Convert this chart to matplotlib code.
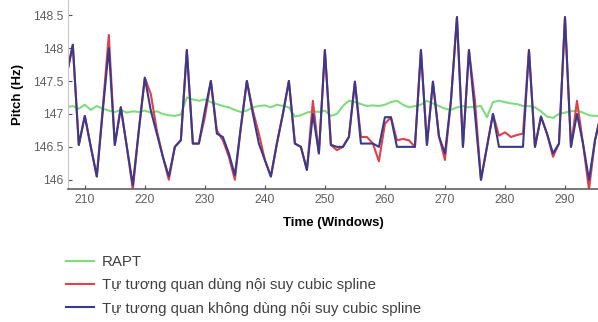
import matplotlib
matplotlib.use('Agg')
import matplotlib.pyplot as plt

plt.rcParams['font.family'] = ['Liberation Sans', 'DejaVu Sans']

# window index
windows = list(range(207, 297))

# RAPT pitch
rapt = [147.10, 147.12, 147.08, 147.14, 147.06, 147.12, 147.08, 147.05, 147.03, 147.06,
        147.02, 147.04, 147.03, 147.05, 147.02, 147.04, 147.00, 146.98, 146.97, 146.99,
        147.25, 147.22, 147.20, 147.22, 147.18, 147.15, 147.12, 147.10, 147.06, 147.03,
        147.05, 147.10, 147.12, 147.13, 147.10, 147.14, 147.12, 147.10, 146.96, 146.98,
        147.02, 147.04, 147.03, 147.05, 146.97, 147.00, 147.12, 147.20, 147.18, 147.15,
        147.12, 147.13, 147.12, 147.14, 147.18, 147.20, 147.14, 147.10, 147.12, 147.14,
        147.20, 147.16, 147.12, 147.08, 147.06, 147.10, 147.12, 147.10, 147.11, 147.12,
        146.95, 147.18, 147.20, 147.18, 147.16, 147.15, 147.12, 147.12, 147.10, 147.04,
        146.96, 146.94, 147.00, 147.02, 147.04, 147.05, 147.02, 146.98, 146.97, 146.97]

# autocorrelation with cubic spline interpolation
spline = [147.60, 148.05, 146.53, 146.97, 146.50, 146.05, 147.10, 148.20, 146.53, 147.10,
          146.50, 145.85, 146.75, 147.55, 147.30, 146.75, 146.35, 146.00, 146.50, 146.60,
          147.97, 146.55, 146.55, 146.95, 147.50, 146.75, 146.60, 146.35, 146.00, 146.80,
          147.50, 147.05, 146.70, 146.30, 146.05, 146.55, 147.00, 147.50, 146.55, 146.50,
          146.15, 147.20, 146.40, 147.97, 146.53, 146.45, 146.50, 146.65, 147.49, 146.65,
          146.65, 146.55, 146.28, 146.85, 146.95, 146.60, 146.62, 146.60, 146.50, 147.97,
          146.53, 147.49, 146.66, 146.30, 147.20, 148.47, 146.50, 147.97, 147.20, 146.00,
          146.50, 147.00, 146.67, 146.72, 146.65, 146.68, 146.70, 147.97, 146.50, 146.96,
          146.70, 146.35, 146.55, 148.47, 146.50, 147.20, 146.55, 145.85, 146.60, 147.00]

# autocorrelation without cubic spline interpolation
no_spline = [147.60, 148.05, 146.53, 146.97, 146.50, 146.05, 147.05, 148.00, 146.53, 147.10,
             146.50, 145.92, 146.75, 147.55, 147.05, 146.70, 146.35, 146.05, 146.50, 146.60,
             147.97, 146.55, 146.55, 147.05, 147.50, 146.70, 146.65, 146.40, 146.07, 146.80,
             147.50, 147.00, 146.55, 146.30, 146.05, 146.55, 147.00, 147.50, 146.55, 146.50,
             146.15, 147.00, 146.40, 147.97, 146.53, 146.50, 146.50, 146.65, 147.49, 146.55,
             146.55, 146.55, 146.50, 146.95, 146.95, 146.50, 146.50, 146.50, 146.50, 147.97,
             146.53, 147.49, 146.66, 146.40, 147.20, 148.47, 146.50, 147.97, 147.00, 146.00,
             146.50, 147.00, 146.50, 146.50, 146.50, 146.50, 146.50, 147.97, 146.50, 146.96,
             146.70, 146.40, 146.55, 148.47, 146.50, 147.00, 146.55, 146.00, 146.60, 147.00]

labels = ['RAPT',
          'Tự tương quan dùng nội suy cubic spline',
          'Tự tương quan không dùng nội suy cubic spline']

fig = plt.figure(figsize=(5.98, 3.22), dpi=100)
ax = fig.add_axes([68 / 598, 133 / 322, 530 / 598, 189 / 322])

ax.plot(windows, rapt, color='#7fdc7f', lw=1.5, label=labels[0])
ax.plot(windows, spline, color='#e0404a', lw=1.5, label=labels[1])
ax.plot(windows, no_spline, color='#3a3a8c', lw=1.5, label=labels[2])

ax.set_xlim(207.2, 295.5)
ax.set_ylim(145.86, 148.73)
ax.set_xticks(range(210, 291, 10))
ax.set_yticks([146, 146.5, 147, 147.5, 148, 148.5])
ax.set_yticklabels(['146', '146.5', '147', '147.5', '148', '148.5'])

for s in ['top', 'right']:
    ax.spines[s].set_visible(False)
ax.spines['left'].set_color('#c8c8c8')
ax.spines['bottom'].set_color('#606060')
ax.spines['bottom'].set_linewidth(1.2)
ax.tick_params(direction='in', length=3, labelsize=8.8, colors='#505050',
               labelcolor='#606060')

ax.set_xlabel('Time (Windows)', fontsize=9.5, fontweight='bold', labelpad=8)
ax.set_ylabel('Pitch (Hz)', fontsize=9.5, fontweight='bold', labelpad=6)

fig.legend(loc='upper left', bbox_to_anchor=(52 / 598, 1 - 242 / 322), frameon=False,
           fontsize=10.8, handlelength=1.9, handletextpad=0.5, labelspacing=0.6,
           labelcolor='#404040')

fig.savefig('out.png', dpi=100)
